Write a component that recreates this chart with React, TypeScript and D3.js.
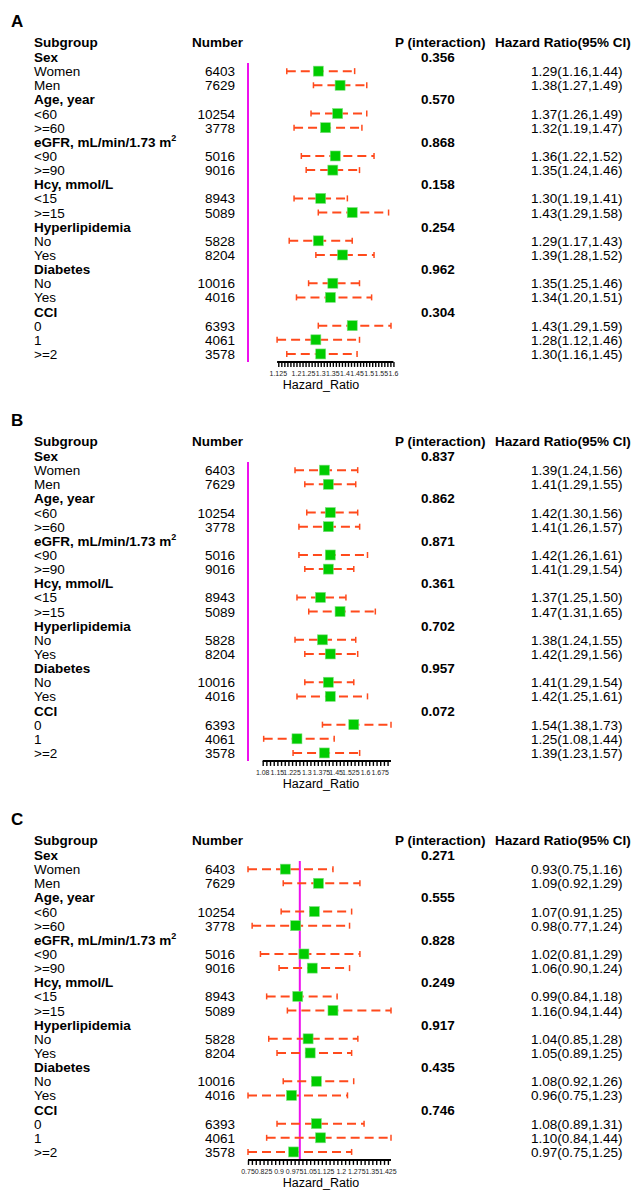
import React, { useRef, useEffect } from 'react';
import * as d3 from 'd3';

// rows shared by the three panels
const rowLabels = [
  'Sex', 'Women', 'Men',
  'Age, year', '<60', '>=60',
  'eGFR, mL/min/1.73 m', '<90', '>=90',
  'Hcy, mmol/L', '<15', '>=15',
  'Hyperlipidemia', 'No', 'Yes',
  'Diabetes', 'No', 'Yes',
  'CCI', '0', '1', '>=2',
];
const groupRows = [0, 3, 6, 9, 12, 15, 18];
const numbers = [
  '', '6403', '7629', '', '10254', '3778', '', '5016', '9016', '', '8943', '5089',
  '', '5828', '8204', '', '10016', '4016', '', '6393', '4061', '3578',
];

// panel A
const hrA = [1.29, 1.38, 1.37, 1.32, 1.36, 1.35, 1.30, 1.43, 1.29, 1.39, 1.35, 1.34, 1.43, 1.28, 1.30];
const lowA = [1.16, 1.27, 1.26, 1.19, 1.22, 1.24, 1.19, 1.29, 1.17, 1.28, 1.25, 1.20, 1.29, 1.12, 1.16];
const highA = [1.44, 1.49, 1.49, 1.47, 1.52, 1.46, 1.41, 1.58, 1.43, 1.52, 1.46, 1.51, 1.59, 1.46, 1.45];
const pA = ['0.356', '0.570', '0.868', '0.158', '0.254', '0.962', '0.304'];
const ticksA = [1.125, 1.2, 1.25, 1.3, 1.35, 1.4, 1.45, 1.5, 1.55, 1.6];
const tickLabelsA = ['1.125', '1.2', '1.25', '1.3', '1.35', '1.4', '1.45', '1.5', '1.55', '1.6'];

// panel B
const hrB = [1.39, 1.41, 1.42, 1.41, 1.42, 1.41, 1.37, 1.47, 1.38, 1.42, 1.41, 1.42, 1.54, 1.25, 1.39];
const lowB = [1.24, 1.29, 1.30, 1.26, 1.26, 1.29, 1.25, 1.31, 1.24, 1.29, 1.29, 1.25, 1.38, 1.08, 1.23];
const highB = [1.56, 1.55, 1.56, 1.57, 1.61, 1.54, 1.50, 1.65, 1.55, 1.56, 1.54, 1.61, 1.73, 1.44, 1.57];
const pB = ['0.837', '0.862', '0.871', '0.361', '0.702', '0.957', '0.072'];
const ticksB = [1.075, 1.15, 1.225, 1.3, 1.375, 1.45, 1.525, 1.6, 1.675];
const tickLabelsB = ['1.08', '1.15', '1.225', '1.3', '1.375', '1.45', '1.525', '1.6', '1.675'];

// panel C
const hrC = [0.93, 1.09, 1.07, 0.98, 1.02, 1.06, 0.99, 1.16, 1.04, 1.05, 1.08, 0.96, 1.08, 1.10, 0.97];
const lowC = [0.75, 0.92, 0.91, 0.77, 0.81, 0.90, 0.84, 0.94, 0.85, 0.89, 0.92, 0.75, 0.89, 0.84, 0.75];
const highC = [1.16, 1.29, 1.25, 1.24, 1.29, 1.24, 1.18, 1.44, 1.28, 1.25, 1.26, 1.23, 1.31, 1.44, 1.25];
const pC = ['0.271', '0.555', '0.828', '0.249', '0.917', '0.435', '0.746'];
const ticksC = [0.75, 0.825, 0.9, 0.975, 1.05, 1.125, 1.2, 1.275, 1.35, 1.425];
const tickLabelsC = ['0.75', '0.825', '0.9', '0.975', '1.05', '1.125', '1.2', '1.275', '1.35', '1.425'];

const panels = [
  { letter: 'A', hr: hrA, low: lowA, high: highA, p: pA, ticks: ticksA, tickLabels: tickLabelsA, minor: 0.0125 },
  { letter: 'B', hr: hrB, low: lowB, high: highB, p: pB, ticks: ticksB, tickLabels: tickLabelsB, minor: 0.01875 },
  { letter: 'C', hr: hrC, low: lowC, high: highC, p: pC, ticks: ticksC, tickLabels: tickLabelsC, minor: 0.01875 },
];

const W = 638;
const H = 1192;
const FONT = '"Liberation Sans", Arial, Helvetica, sans-serif';
const FS = 13.5;
const PANEL_DY = 399;
const ROW0 = 62; // baseline of first row
const STEP = 14.14;

export default function App() {
  const svgRef = useRef<SVGSVGElement>(null);

  useEffect(() => {
    const svg = d3.select(svgRef.current);
    svg.selectAll('*').remove();

    panels.forEach((pan, pi) => {
      const g = svg.append('g').attr('transform', `translate(0,${pi * PANEL_DY})`);
      const base = (i: number) => ROW0 + i * STEP;
      const mid = (i: number) => base(i) - 5;
      const last = rowLabels.length - 1;

      g.append('text').attr('x', 11).attr('y', 27).attr('font-size', 17).attr('font-weight', 'bold').text(pan.letter);

      // headers
      const hy = ROW0 - 15;
      g.append('text').attr('x', 34).attr('y', hy).attr('font-weight', 'bold').text('Subgroup');
      g.append('text').attr('x', 192).attr('y', hy).attr('font-weight', 'bold').text('Number');
      g.append('text').attr('x', 395).attr('y', hy).attr('font-weight', 'bold').text('P (interaction)');
      g.append('text').attr('x', 495).attr('y', hy).attr('font-weight', 'bold').text('Hazard Ratio(95% CI)');

      // left columns
      rowLabels.forEach((lab, i) => {
        const isGroup = groupRows.includes(i);
        const t = g.append('text').attr('x', 34).attr('y', base(i)).attr('font-weight', isGroup ? 'bold' : 'normal').text(lab);
        if (i === 6) t.append('tspan').attr('font-size', 9).attr('dy', -6).text('2');
        if (numbers[i]) g.append('text').attr('x', 235).attr('y', base(i)).attr('text-anchor', 'end').text(numbers[i]);
      });

      groupRows.forEach((r, k) => {
        g.append('text').attr('x', 421).attr('y', base(r)).attr('font-weight', 'bold').text(pan.p[k]);
      });

      const dataRows = d3.range(rowLabels.length).filter((i) => !groupRows.includes(i));
      const lo = d3.min(pan.low) as number;
      const hi = d3.max(pan.high) as number;
      const x = d3.scaleLinear().domain([Math.min(1, lo), hi]).range([248, 391]);

      // reference line at 1
      const axisY = mid(last) + 8;
      g.append('line')
        .attr('x1', x(1)).attr('x2', x(1))
        .attr('y1', mid(0) + 6).attr('y2', axisY)
        .attr('stroke', '#EE10EE').attr('stroke-width', 2);

      dataRows.forEach((r, k) => {
        const y = mid(r);
        g.append('text').attr('x', 531).attr('y', base(r))
          .text(`${pan.hr[k].toFixed(2)}(${pan.low[k].toFixed(2)},${pan.high[k].toFixed(2)})`);
        g.append('line')
          .attr('x1', x(pan.low[k])).attr('x2', x(pan.high[k]))
          .attr('y1', y).attr('y2', y)
          .attr('stroke', '#FF4A1C').attr('stroke-width', 2)
          .attr('stroke-dasharray', '9,5');
        [pan.low[k], pan.high[k]].forEach((v) => {
          g.append('line')
            .attr('x1', x(v)).attr('x2', x(v))
            .attr('y1', y - 3).attr('y2', y + 3)
            .attr('stroke', '#FF4A1C').attr('stroke-width', 1.5);
        });
        g.append('rect')
          .attr('x', x(pan.hr[k]) - 5).attr('y', y - 5)
          .attr('width', 10).attr('height', 10)
          .attr('fill', '#00CC00').attr('stroke', '#7FE07F').attr('stroke-width', 0.6);
      });

      // x axis
      const a0 = Math.max(Math.min(lo, pan.ticks[0]), x.domain()[0]);
      const a1 = Math.max(hi, pan.ticks[pan.ticks.length - 1]);
      const minor: number[] = [];
      for (let v = pan.ticks[0]; v <= a1 + 1e-9; v += pan.minor) minor.push(v);
      for (let v = pan.ticks[0] - pan.minor; v >= a0 - 1e-9; v -= pan.minor) minor.push(v);

      g.append('line')
        .attr('x1', x(a0)).attr('x2', x(a1))
        .attr('y1', axisY).attr('y2', axisY)
        .attr('stroke', '#000').attr('stroke-width', 2);

      const ax = g.append('g').attr('transform', `translate(0,${axisY})`)
        .call(d3.axisBottom(x).tickValues(minor).tickSize(5).tickFormat(() => ''));
      ax.select('.domain').remove();
      ax.selectAll('line').attr('stroke', '#000').attr('stroke-width', 1.4);

      pan.ticks.forEach((v, k) => {
        g.append('text')
          .attr('x', x(v)).attr('y', axisY + 14)
          .attr('text-anchor', 'middle').attr('font-size', 7).attr('fill', '#222')
          .text(pan.tickLabels[k]);
      });

      g.append('text')
        .attr('x', 321).attr('y', axisY + 27)
        .attr('text-anchor', 'middle').attr('font-size', 12.5)
        .text('Hazard_Ratio');
    });
  }, []);

  return (
    <svg
      ref={svgRef}
      width={W}
      height={H}
      style={{ position: 'absolute', left: 0, top: 0, background: '#fff', fontFamily: FONT, fontSize: FS }}
    />
  );
}
